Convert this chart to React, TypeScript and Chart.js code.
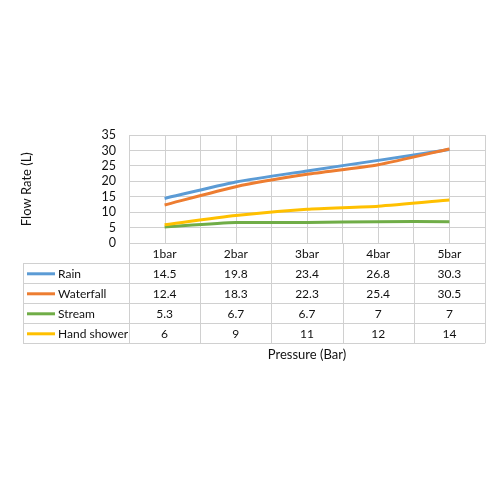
import React, { useEffect, useRef } from "react";
import { Chart, registerables } from "chart.js";

Chart.register(...registerables);

const categories = ["1bar", "2bar", "3bar", "4bar", "5bar"];
const rain = [14.5, 19.8, 23.4, 26.8, 30.3];
const waterfall = [12.4, 18.3, 22.3, 25.4, 30.5];
const stream = [5.3, 6.7, 6.7, 7, 7];
const handShower = [6, 9, 11, 12, 14];

const seriesNames = ["Rain", "Waterfall", "Stream", "Hand shower"];
const seriesValues = [rain, waterfall, stream, handShower];
const seriesColors = ["#5B9BD5", "#ED7D31", "#70AD47", "#FFC000"];

const yTitle = "Flow Rate (L)";
const xTitle = "Pressure (Bar)";

const FONT = "Lato, 'Liberation Sans', sans-serif";
const GRID = "#d0d0d0";
const TEXT = "#111111";

const tablePlugin = {
  id: "dataTable",
  beforeDatasetsDraw(chart: any) {
    const { ctx, chartArea, scales } = chart;
    const x = scales.x;
    ctx.save();
    ctx.strokeStyle = GRID;
    ctx.lineWidth = 1;
    categories.forEach((_, i) => {
      const px = Math.round(x.getPixelForValue(i)) + 0.5;
      ctx.beginPath();
      ctx.moveTo(px, chartArea.top);
      ctx.lineTo(px, chartArea.bottom);
      ctx.stroke();
    });
    ctx.restore();
  },
  afterDraw(chart: any) {
    const { ctx, chartArea, scales } = chart;
    const x = scales.x;
    const rowH = 20;
    const top = chartArea.bottom;
    const tableLeft = 23;
    const nRows = seriesNames.length;
    const bottom = top + rowH * (nRows + 1);
    const colW = (chartArea.right - chartArea.left) / categories.length;
    ctx.save();
    ctx.strokeStyle = GRID;
    ctx.lineWidth = 1;
    for (let i = 0; i <= categories.length; i++) {
      const px = Math.round(chartArea.left + i * colW) + 0.5;
      ctx.beginPath();
      ctx.moveTo(px, top);
      ctx.lineTo(px, bottom);
      ctx.stroke();
    }
    ctx.beginPath();
    ctx.moveTo(tableLeft + 0.5, top + rowH);
    ctx.lineTo(tableLeft + 0.5, bottom);
    ctx.stroke();
    for (let r = 1; r <= nRows + 1; r++) {
      const py = Math.round(top + r * rowH) + 0.5;
      ctx.beginPath();
      ctx.moveTo(tableLeft, py);
      ctx.lineTo(chartArea.right, py);
      ctx.stroke();
    }
    ctx.fillStyle = TEXT;
    ctx.font = `12px ${FONT}`;
    ctx.textAlign = "center";
    ctx.textBaseline = "middle";
    categories.forEach((c, i) => {
      ctx.fillText(c, x.getPixelForValue(i), top + rowH / 2 + 1);
    });
    seriesNames.forEach((name, r) => {
      const cy = top + rowH * (r + 1) + rowH / 2 + 1;
      ctx.strokeStyle = seriesColors[r];
      ctx.lineWidth = 3;
      ctx.beginPath();
      ctx.moveTo(27, cy - 0.5);
      ctx.lineTo(55, cy - 0.5);
      ctx.stroke();
      ctx.textAlign = "left";
      ctx.fillText(name, 58, cy);
      ctx.textAlign = "center";
      seriesValues[r].forEach((v, i) => {
        ctx.fillText(String(v), x.getPixelForValue(i), cy);
      });
    });
    ctx.font = `13px ${FONT}`;
    ctx.textAlign = "center";
    ctx.textBaseline = "middle";
    ctx.fillText(xTitle, (chartArea.left + chartArea.right) / 2, bottom + 12);
    ctx.save();
    ctx.translate(27, (chartArea.top + chartArea.bottom) / 2);
    ctx.rotate(-Math.PI / 2);
    ctx.fillText(yTitle, 0, 0);
    ctx.restore();
    ctx.restore();
  },
};

export default function App() {
  const ref = useRef<HTMLCanvasElement | null>(null);
  useEffect(() => {
    if (!ref.current) return;
    const chart = new Chart(ref.current, {
      type: "line",
      data: {
        labels: categories,
        datasets: seriesNames.map((name, i) => ({
          label: name,
          data: seriesValues[i],
          borderColor: seriesColors[i],
          backgroundColor: seriesColors[i],
          borderWidth: 3,
          pointRadius: 0,
          tension: 0.2,
          order: seriesNames.length - i,
        })),
      },
      options: {
        responsive: false,
        animation: false,
        devicePixelRatio: 1,
        layout: { padding: { left: 0, right: 15, top: 135, bottom: 256.7 } },
        plugins: {
          legend: { display: false },
          tooltip: { enabled: false },
        },
        scales: {
          x: {
            type: "category",
            offset: true,
            grid: { offset: true, color: GRID, drawTicks: false },
            border: { color: GRID },
            ticks: { display: false },
            afterFit: (s: any) => {
              s.height = 0;
            },
          },
          y: {
            min: 0,
            max: 35,
            grid: { color: GRID, drawTicks: false },
            border: { color: GRID },
            ticks: {
              stepSize: 5,
              autoSkip: false,
              padding: 13,
              color: TEXT,
              font: { family: FONT, size: 12.5 },
            },
            afterFit: (s: any) => {
              s.width = 129;
            },
          },
        },
      },
      plugins: [tablePlugin],
    });
    return () => chart.destroy();
  }, []);
  return (
    <div style={{ position: "fixed", left: 0, top: 0, width: 500, height: 500, background: "#fff" }}>
      <canvas ref={ref} width={500} height={500} />
    </div>
  );
}
